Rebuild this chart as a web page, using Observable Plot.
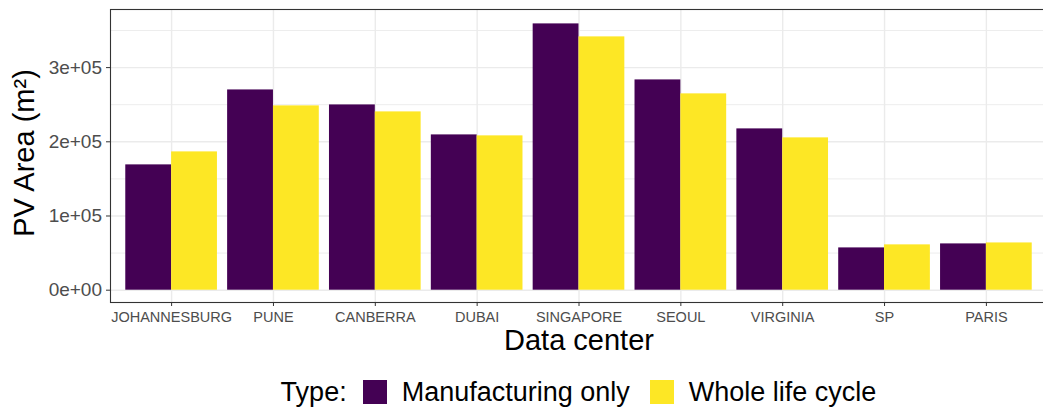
<!DOCTYPE html>
<html><head><meta charset="utf-8">
<script src="https://cdn.jsdelivr.net/npm/d3@7"></script>
<script src="https://cdn.jsdelivr.net/npm/@observablehq/plot@0.6"></script>
<style>
html,body{margin:0;padding:0;background:#fff;overflow:hidden;width:1043px;height:410px;}
#wrap{position:relative;width:1047px;height:410px;font-family:"Liberation Sans",Arial,sans-serif;}
#legend{position:absolute;left:110px;width:937px;top:370px;height:44px;display:flex;align-items:center;justify-content:center;font-size:27px;color:#000;white-space:nowrap;}
#legend .sw{display:inline-block;width:24px;height:24px;}
</style></head><body><div id="wrap"><div id="chart"></div><div id="legend"></div></div>
<script>
const cities = ["JOHANNESBURG","PUNE","CANBERRA","DUBAI","SINGAPORE","SEOUL","VIRGINIA","SP","PARIS"];
const manufacturing = [168900, 269900, 249700, 209300, 358900, 283400, 217400, 57000, 62400];
const wholeLife = [186400, 248400, 240300, 208000, 341400, 264600, 205300, 61100, 63700];
const types = ["Manufacturing only", "Whole life cycle"];
const colors = ["#440154", "#FDE725"];
const yTicks = [0, 100000, 200000, 300000];
const yTickLabels = ["0e+00", "1e+05", "2e+05", "3e+05"];
const yMinor = [50000, 150000, 250000, 350000];
const xTitle = "Data center";
const yTitle = "PV Area (m²)";
const legendTitle = "Type:";

const data = [];
cities.forEach((c, i) => {
  data.push({city: c, type: types[0], value: manufacturing[i]});
  data.push({city: c, type: types[1], value: wholeLife[i]});
});

const xOpts = {type: "band", domain: cities, range: [110, 1047], paddingInner: 0.1, paddingOuter: 0.15, round: false};
const half = Plot.scale({x: xOpts}).bandwidth / 2;

const chart = Plot.plot({
  width: 1047, height: 360,
  marginLeft: 110, marginRight: 0, marginTop: 9, marginBottom: 58,
  style: {fontFamily: "'Liberation Sans', Arial, sans-serif", background: "#fff", overflow: "visible"},
  x: {...xOpts, axis: null},
  y: {domain: [-16580, 378300], axis: null},
  marks: [
    Plot.gridY(yMinor, {stroke: "#EBEBEB", strokeOpacity: 1, strokeWidth: 0.9}),
    Plot.gridY(yTicks, {stroke: "#EBEBEB", strokeOpacity: 1, strokeWidth: 1.4}),
    Plot.gridX(cities, {stroke: "#EBEBEB", strokeOpacity: 1, strokeWidth: 1.4}),
    Plot.barY(data.filter(d => d.type === types[0]), {x: "city", y: "value", fill: colors[0], insetLeft: 0, insetRight: half}),
    Plot.barY(data.filter(d => d.type === types[1]), {x: "city", y: "value", fill: colors[1], insetLeft: half, insetRight: 0}),
    Plot.frame({stroke: "#333333", strokeWidth: 1.1}),
    Plot.axisY(yTicks, {tickFormat: d => yTickLabels[yTicks.indexOf(d)], tickSize: 4, tickPadding: 4.5, fontSize: 19, fill: "#4D4D4D", stroke: "#333333", label: null}),
    Plot.axisX({tickSize: 4, tickPadding: 5, fontSize: 14.5, fill: "#4D4D4D", stroke: "#333333", label: null}),
    Plot.text([xTitle], {frameAnchor: "bottom", lineAnchor: "middle", textAnchor: "middle", dy: 38.7, fontSize: 29, fill: "#000"}),
    Plot.text([yTitle], {frameAnchor: "left", lineAnchor: "middle", textAnchor: "middle", rotate: -90, dx: -86, dy: -3, fontSize: 29, fill: "#000"})
  ]
});
document.getElementById("chart").appendChild(chart);

const leg = document.getElementById("legend");
const t = document.createElement("span");
t.textContent = legendTitle;
t.style.marginRight = "16px";
leg.appendChild(t);
types.forEach((ty, i) => {
  const sw = document.createElement("span");
  sw.className = "sw";
  sw.style.background = colors[i];
  sw.style.marginRight = "15px";
  leg.appendChild(sw);
  const lb = document.createElement("span");
  lb.textContent = ty;
  if (i < types.length - 1) lb.style.marginRight = "20px";
  leg.appendChild(lb);
});
</script>
</body></html>
